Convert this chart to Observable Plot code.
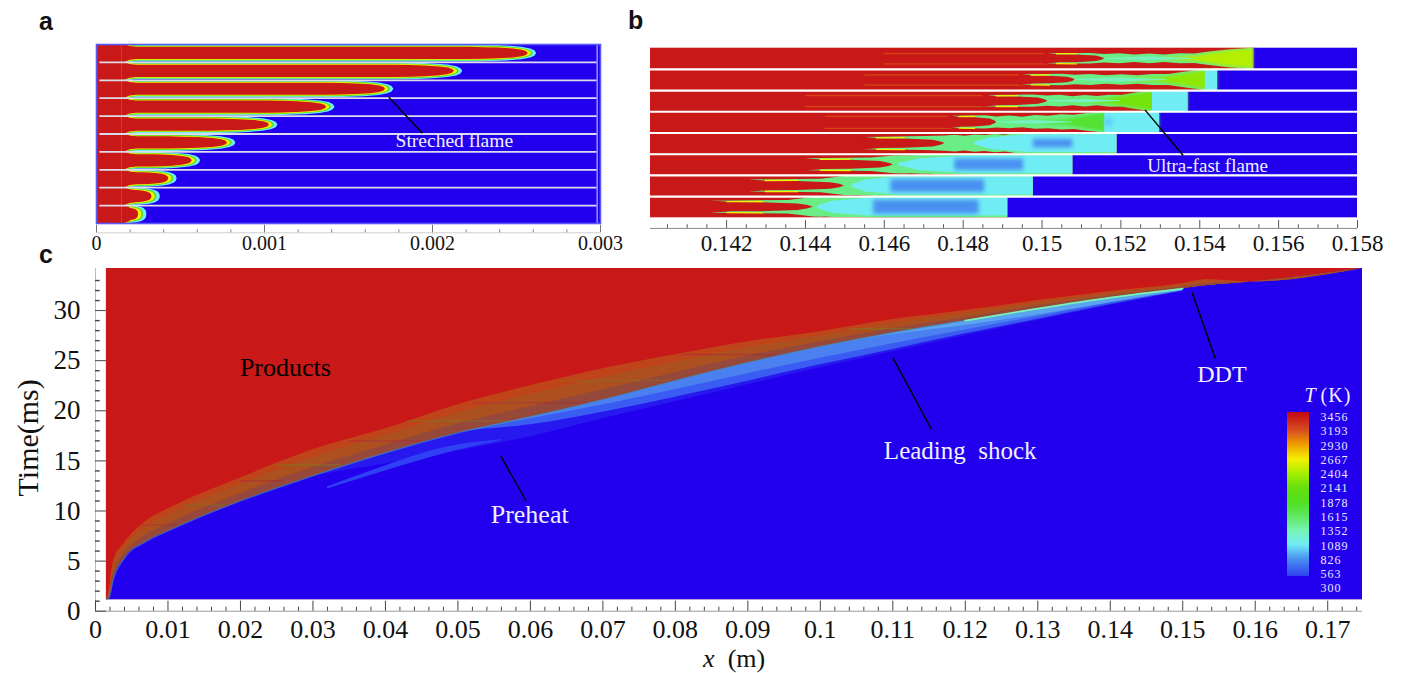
<!DOCTYPE html>
<html><head><meta charset="utf-8">
<script src="https://cdn.jsdelivr.net/npm/d3@7"></script>
<script src="https://cdn.jsdelivr.net/npm/@observablehq/plot@0.6"></script>
<style>
html,body{margin:0;padding:0;background:#fff;overflow:hidden}
#page{position:relative;width:1401px;height:673px;overflow:hidden}
#page svg{position:absolute;overflow:visible;background:transparent}
.letter{position:absolute;font:bold 25px "Liberation Sans",sans-serif;color:#111;line-height:1}
</style></head><body><div id="page"></div>
<script>
// ---------- temperature colour key ----------
const tempStops  = [300,563,826,1089,1352,1615,1878,2141,2404,2667,2930,3193,3456];
const tempColors = ["#2200ee","#3450f0","#4a90f0","#70ecf4","#78f4b4","#60e860","#50e020","#66e010","#a8ee00","#f4f000","#f0a000","#d85020","#c81818"];
const legendTicks = [300,563,826,1089,1352,1615,1878,2141,2404,2667,2930,3193,3456];

// ---------- panel a ----------
const aTips   = [.00262,.00218,.00177,.00142,.00108,.00083,.00062,.00048,.00038,.00030];
const aNoseU  = [1,.75,.5,.25,.1,.03,0];
const aNoseW  = [.41,.39,.36,.30,.22,.13,0];
const aLayers = [[1089,1.16,0],[1878,1.03,-.00002],[2667,.93,-.00003],[3456,.83,-.00005]];
const aMajor  = [0,.001,.002,.003];
const aMinor  = [.0002,.0004,.0006,.0008,.0012,.0014,.0016,.0018,.0022,.0024,.0026,.0028];

// ---------- panel b ----------
const bProng  = [.15015,.14953,.14860,.14773,.14549,.14405,.14262,.14163];
const bFinger = [.15159,.15084,.15015,.14885,.14754,.14623,.14499,.14420];
const bFull   = [.15476,.15414,.15277,.15159,.14966,.14816,.14630,.14555];
const bShock  = [.15536,.15445,.15370,.15298,.15190,.15078,.14978,.14913];
const bCyan   = [.15536,.15414,.15280,.15159,.14829,.14636,.14517,.14430];
const bCoreA  = [null,null,null,.15160,.14978,.14779,.14617,.14573];
const bCoreB  = [null,null,null,.15180,.15078,.14953,.14854,.14840];
const bHP     = [.24,.24,.26,.28,.28,.27,.27,.27];
const bHF     = [.20,.22,.24,.26,.36,.42,.45,.46];
const bHM     = [.20,.22,.24,.32,.40,.46,.48,.49];
const bHE     = [.42,.5,.5,.5,.5,.5,.5,.5];
const bBumpF  = [.12,.24,.36,.48,.6,.72,.84];
const bBumpH  = [.035,-.025,.03,-.02,.03,-.02,.02];
const bStreak = [.1460,.1455,.1440,.1445,null,null,null,null];
const bTailA  = [.1530,.1520,.1505,.1495,null,null,null,null];
const bTailT  = [2450,2300,2200,1800,null,null,null,null];
const bMajor  = [.142,.144,.146,.148,.150,.152,.154,.156,.158];
const bMinor  = [.1405,.141,.1415,.1425,.143,.1435,.1445,.145,.1455,.1465,.147,.1475,.1485,.149,.1495,.1505,.151,.1515,.1525,.153,.1535,.1545,.155,.1555,.1565,.157,.1575];
const bMajorLabels = ["0.142","0.144","0.146","0.148","0.15","0.152","0.154","0.156","0.158"];

// ---------- panel c ----------
const cFrontX = [.0015,.0018,.0025,.0039,.0071,.01,.02,.03,.04,.05,.06,.07,.08,.09,.1,.11,.12,.13,.14,.15,.1534,.1593,.1748];
const cLower  = [1.15,1.23,3.3,5.2,7.0,8.0,11.0,13.5,15.8,17.8,19.4,21.1,23.0,24.8,26.4,27.8,29.0,30.2,31.3,32.2,32.5,32.85,34.2];
const cUpper  = [1.15,1.7,5.05,6.7,9.04,10.2,13.3,16.1,18.2,20.6,22.5,24.2,25.6,26.9,27.9,29.1,30.0,31.0,31.9,32.7,33.1,32.85,34.2];
const cPreX   = [.03,.04,.05,.06,.07,.08,.09,.1,.11,.12,.13,.14,.15];
const cPreLow = [13.5,14.7,16.0,17.4,19.2,20.9,22.6,24.3,25.9,27.5,29.0,30.5,31.9];
const cPreTop = [13.5,15.8,17.8,19.4,21.1,23.0,24.8,26.4,27.8,29.0,30.2,31.3,32.2];
const cPreF1  = [1,1,1,.6,.35,.22,.16,.14,.12,.12,.12,.12,.2];
const cPreF2  = [1,1,1,.9,.72,.58,.5,.45,.42,.38,.35,.35,.4];
const cPreF3  = [1,1,1,1,1,1,1,.98,.9,.68,.48,.35,.3];
const cSlashX = [.032,.040,.048,.056];
const cSlashL = [12.2,14.0,15.7,17.0];
const cSlashT = [12.4,14.5,16.3,17.1];
const cStreakX1 = [.0065,.012,.020,.025,.035,.043,.052,.064,.081,.104];
const cStreakX2 = [.0112,.018,.026,.034,.045,.057,.068,.079,.094,.113];
const cStreakT  = [8.6,10.6,13.0,14.6,17.0,19.0,20.8,23.0,25.6,28.2];
const cStreakC  = ["#a8283c","#7f7a20","#a8283c","#7f7a20","#a8283c","#7f7a20","#a8283c","#7f7a20","#a8283c","#7f7a20"];
const cXMajor = [0,.01,.02,.03,.04,.05,.06,.07,.08,.09,.1,.11,.12,.13,.14,.15,.16,.17];
const cXMinor = d3.range(2,175,2).filter(d=>d%10).map(d=>d/1000);
const cYMajor = [0,5,10,15,20,25,30];
const cYMinor = d3.range(1,34).filter(d=>d%5);

const BLUE=300, RED=3456;
const color = {type:"linear",domain:tempStops,range:tempColors,interpolate:"rgb"};
const serif = "Liberation Serif";
const blur  = {imageFilter:"blur(0.7px)"};
const page  = document.getElementById("page");
function place(svg,left,top){svg.style.left=left+"px";svg.style.top=top+"px";page.appendChild(svg);return svg;}
function letter(t,x,y){const d=document.createElement("div");d.className="letter";d.textContent=t;d.style.left=x+"px";d.style.top=y+"px";page.appendChild(d);}

// ---------- draw panel a ----------
const aX0=.00017;
const aMarks=[
  Plot.rect([{T:BLUE}],{x1:0,x2:.003,y1:0,y2:10,fill:"T"}),
  Plot.rect([{T:RED}],{x1:0,x2:aX0,y1:0,y2:10,fill:"T"})
];
for(const [T,k,dt] of aLayers){
  const pts=[];
  aTips.forEach((tip0,r)=>{
    const tip=tip0+dt, L=Math.min(.00035,.6*(tip-aX0));
    const shape=[[aX0+.00003,.46],[aX0+.00007,.41]].filter(d=>d[0]<tip-L).map(([x,w])=>[x,w*k]);
    shape.unshift([aX0-.00002,.5],[aX0,.5]);
    aNoseU.forEach((u,i)=>shape.push([tip-u*L,aNoseW[i]*k]));
    for(const [x,w0] of shape){
      const w=Math.min(.5,w0);
      pts.push({r,T,x,y1:r+.5-w,y2:r+.5+w});
    }
  });
  aMarks.push(Plot.areaY(pts,{x:"x",y1:"y1",y2:"y2",z:"r",fill:"T",...blur}));
}
aMarks.push(
  Plot.ruleY([1,2,3,4,5,6,7,8,9],{x1:.00002,x2:.00298,stroke:"#dcdcec",strokeWidth:1.8}),
  Plot.ruleX([.00298],{y1:0,y2:10,stroke:"#b4b4f8",strokeWidth:1.2}),
  Plot.frame({stroke:"#5a5af8",strokeWidth:1.6}),
  Plot.ruleY([10.52],{x1:0,x2:.003,stroke:"#cfcfcf",strokeWidth:1}),
  Plot.ruleX(aMajor,{y1:10.1,y2:10.52,stroke:"#777",strokeWidth:1}),
  Plot.ruleX(aMinor,{y1:10.35,y2:10.52,stroke:"#888",strokeWidth:1}),
  Plot.axisX(aMajor,{anchor:"bottom",tickSize:0,tickPadding:12,fontSize:20,tickFormat:d=>d===0?"0":d.toFixed(3),fill:"#111",fontFamily:serif,label:null}),
  Plot.link([{x1:.00174,y1:2.95,x2:.00194,y2:4.96}],{x1:"x1",y1:"y1",x2:"x2",y2:"y2",stroke:"#000",strokeWidth:1.4}),
  Plot.text(["Streched flame"],{x:.00213,y:5.4,text:d=>d,fill:"#f0f0ff",fontSize:19.5,fontFamily:serif})
);
place(Plot.plot({width:625,height:252,marginLeft:96,marginRight:25,marginTop:44,marginBottom:29,
  x:{domain:[0,.003],axis:null},y:{domain:[10,0],axis:null},color,style:{background:"transparent"},marks:aMarks}),0,0);

// ---------- draw panel b ----------
const bXL=.14007,bXR=.158;
const bMarks=[];
const rows=d3.range(8);
bMarks.push(Plot.rect(rows,{x1:bXL,x2:r=>bShock[r],y1:r=>r,y2:r=>r+1,fill:()=>RED}));
bMarks.push(Plot.rect(rows,{x1:r=>bShock[r],x2:bXR,y1:r=>r,y2:r=>r+1,fill:()=>BLUE}));
bMarks.push(Plot.ruleY(rows.filter(r=>bStreak[r]).flatMap(r=>[{r,s:-1},{r,s:1}]),{x1:d=>bStreak[d.r],x2:d=>bProng[d.r],y:d=>d.r+.5+d.s*bHP[d.r],stroke:()=>3000,strokeOpacity:.4,strokeWidth:1.2,...blur}));
// green wedge with a ragged edge
function waist(r,f){
  const a=f<.5?bHF[r]:bHM[r], b=f<.5?bHM[r]:bHE[r], u=f<.5?f*2:(f-.5)*2;
  return a+(b-a)*u*u;
}
const wedge=rows.flatMap(r=>{
  const p=bProng[r],f=bFinger[r];
  const pts=[[p,bHP[r]+.01],[p+(f-p)*.75,Math.min(bHP[r]+.05,bHF[r]+.05)],[f,bHF[r]]];
  bBumpF.forEach((g,i)=>pts.push([f+(bFull[r]-f)*g,waist(r,g)+bBumpH[i]*(r<5?1:.3)]));
  pts.push([bFull[r],bHE[r]],[bShock[r],.5]);
  return pts.map(([x,h])=>({r,x,y1:r+.5-h,y2:r+.5+h,T:1500}));
});
bMarks.push(Plot.areaY(wedge,{x:"x",y1:"y1",y2:"y2",z:"r",fill:"T",...blur}));
// hot tails behind the shock
const tails=rows.filter(r=>bTailA[r]).flatMap(r=>[
  {x:bTailA[r],h:.02},{x:(bTailA[r]+bFull[r])/2,h:.12},{x:bFull[r],h:Math.min(.44,bHE[r]-.04)},{x:bShock[r],h:.46}
].map(d=>({r,x:d.x,y1:r+.5-d.h,y2:r+.5+d.h,T:bTailT[r]})));
bMarks.push(Plot.areaY(tails,{x:"x",y1:"y1",y2:"y2",z:"r",fill:"T",imageFilter:"blur(1.6px)"}));
// cyan interior
const spine=rows.flatMap(r=>[[bFinger[r],.02],[bFinger[r]+(bFull[r]-bFinger[r])*.35,.09],[bFinger[r]+(bFull[r]-bFinger[r])*.7,.02]].map(([x,h])=>({r,x,y1:r+.5-h,y2:r+.5+h,T:1300})));
bMarks.push(Plot.areaY(spine.filter(d=>d.r<4),{x:"x",y1:"y1",y2:"y2",z:"r",fill:"T",...blur}));
const cyan=rows.filter(r=>bCyan[r]<bShock[r]).flatMap(r=>{
  const open=r>=4, hc=open?.42:.5;
  return (open?[[bCyan[r],.05],[bCyan[r]+(bFull[r]-bCyan[r])*.3,.28],[bFull[r],hc],[bShock[r],hc]]:[[bCyan[r],hc],[bShock[r],hc]])
    .map(([x,h])=>({r,x,y1:r+.5-h,y2:r+.5+h,T:1089}));
});
bMarks.push(Plot.areaY(cyan,{x:"x",y1:"y1",y2:"y2",z:"r",fill:"T",...blur}));
// blue core
const coreH=[0,0,0,.2,.2,.27,.3,.33];
const core=rows.filter(r=>bCoreA[r]).map(r=>({r,x1:bCoreA[r],x2:bCoreB[r],y1:r+.5-coreH[r],y2:r+.5+coreH[r],T:r<4?1000:826}));
bMarks.push(Plot.rect(core,{x1:"x1",x2:"x2",y1:"y1",y2:"y2",fill:"T",imageFilter:"blur(2px)"}));
// red finger between the two prongs
const finger=rows.flatMap(r=>{
  const p=bProng[r],f=bFinger[r],h=bHP[r]-.05;
  return [[p-.0001,bHP[r]+.03],[p+(f-p)*.2,h],[p+(f-p)*.5,h*.95],[p+(f-p)*.85,h*.7],[p+(f-p)*.95,h*.35],[f,0]].map(([x,w])=>({r,x,y1:r+.5-w,y2:r+.5+w,T:RED}));
});
bMarks.push(Plot.areaY(finger,{x:"x",y1:"y1",y2:"y2",z:"r",fill:"T",...blur}));
// yellow prong streaks
const prongs=rows.flatMap(r=>[-1,1].flatMap(s=>[
  [bProng[r]+(bFinger[r]-bProng[r])*.15,bHP[r]-.01],[bProng[r]+(bFinger[r]-bProng[r])*.5,bHP[r]]
].map(([x,h])=>({k:r+"_"+s,x,y:r+.5+s*h,T:2667}))));
bMarks.push(Plot.line(prongs,{x:"x",y:"y",z:"k",stroke:"T",strokeWidth:1.3,...blur}));
bMarks.push(
  Plot.ruleX([bShock[0]],{y1:0,y2:1,stroke:"#e06a20",strokeWidth:1.2}),
  Plot.ruleY([1,2,3,4,5,6,7],{x1:bXL,x2:bXR,stroke:"#fff",strokeWidth:2.1}),
  Plot.ruleY([8.5],{x1:bXL,x2:bXR,stroke:"#888",strokeWidth:1}),
  Plot.ruleX(bMajor,{y1:8.13,y2:8.5,stroke:"#555",strokeWidth:1}),
  Plot.ruleX(bMinor,{y1:8.33,y2:8.5,stroke:"#555",strokeWidth:1}),
  Plot.axisX(bMajor,{anchor:"bottom",tickSize:0,tickPadding:17,fontSize:23,tickFormat:(d,i)=>bMajorLabels[i],fill:"#111",fontFamily:serif,label:null}),
  Plot.link([{x1:.15261,y1:2.91,x2:.15358,y2:5.06}],{x1:"x1",y1:"y1",x2:"x2",y2:"y2",stroke:"#000",strokeWidth:1.4}),
  Plot.text(["Ultra-fast flame"],{x:.1542,y:5.53,text:d=>d,fill:"#f0f0ff",fontSize:19,fontFamily:serif})
);
place(Plot.plot({width:776,height:252,marginLeft:25,marginRight:44,marginTop:47.7,marginBottom:34.7,
  x:{domain:[bXL,bXR],axis:null},y:{domain:[8,0],axis:null},color,style:{background:"transparent"},marks:bMarks}),625,0);

// ---------- draw panel c ----------
const cBand=cFrontX.map((x,i)=>({x,lo:cLower[i],up:cUpper[i]}));
const cPre=cPreX.map((x,i)=>({x,lo:cPreLow[i],up:cPreTop[i],f1:cPreF1[i],f2:cPreF2[i],f3:cPreF3[i]}));
const cX0=.0015,cX1=.1748,cT0=1.15,cT1=34.2;
const smooth={curve:"monotone-x"};
const cMarks=[
  Plot.rect([{T:RED}],{x1:cX0,x2:cX1,y1:cT0,y2:cT1,fill:"T"}),
  Plot.areaY(cBand,{x:"x",y1:cT0,y2:"lo",fill:()=>BLUE,...smooth}),
  // preheat zone ahead of the flame
  Plot.areaY(cPre,{x:"x",y1:"lo",y2:"up",fill:"#2818f0",...blur,...smooth}),
  Plot.areaY(cPre,{x:"x",y1:d=>d.lo+(d.up-d.lo)*d.f1,y2:"up",fill:"#3a5cf2",...blur,...smooth}),
  Plot.areaY(cPre,{x:"x",y1:d=>d.lo+(d.up-d.lo)*d.f2,y2:"up",fill:"#4a80f0",...blur,...smooth}),
  Plot.areaY(cPre,{x:"x",y1:d=>d.lo+(d.up-d.lo)*d.f3,y2:"up",fill:"#5aa4f0",...blur,...smooth}),
  Plot.areaY(cSlashX,{x:d=>d,y1:(d,i)=>cSlashL[i],y2:(d,i)=>cSlashT[i],fill:"#3040f4",...blur,...smooth}),
  // mixed zone behind the flame
  Plot.areaY(cBand,{x:"x",y1:"lo",y2:"up",fill:"#c0441a",...blur,...smooth}),
  Plot.areaY(cBand,{x:"x",y1:"lo",y2:d=>d.lo+(d.up-d.lo)*.72,fill:"#ac5020",...blur,...smooth}),
  Plot.areaY(cBand,{x:"x",y1:"lo",y2:d=>d.lo+(d.up-d.lo)*.32,fill:"#96483a",...blur,...smooth}),
  Plot.ruleY(cStreakT,{x1:(d,i)=>cStreakX1[i],x2:(d,i)=>cStreakX2[i],stroke:(d,i)=>cStreakC[i],strokeOpacity:.6,strokeWidth:1.2}),
  Plot.lineY(cBand.filter(d=>d.x<.125),{x:"x",y:"lo",stroke:"#3f8ac0",strokeWidth:1.2,strokeOpacity:.7,...smooth}),
  Plot.lineY(cBand.filter(d=>d.x>=.12&&d.x<=.15),{x:"x",y:"lo",stroke:()=>1350,strokeWidth:1.8,...blur,...smooth}),
  // axes
  Plot.ruleY([0],{x1:0,x2:cX1,stroke:"#999",strokeWidth:1}),
  Plot.ruleX([0],{y1:0,y2:cT1,stroke:"#bbb",strokeWidth:1}),
  Plot.ruleX(cXMajor,{y1:0,y2:1,stroke:"#444",strokeWidth:1}),
  Plot.ruleX(cXMinor,{y1:0,y2:.4,stroke:"#444",strokeWidth:1}),
  Plot.ruleY(cYMajor,{x1:0,x2:cX0,stroke:"#444",strokeWidth:1}),
  Plot.ruleY(cYMinor,{x1:0,x2:.00065,stroke:"#444",strokeWidth:1.4}),
  Plot.axisX(cXMajor,{anchor:"bottom",tickSize:0,tickPadding:8,fontSize:26,tickFormat:d=>String(+d.toFixed(2)),fill:"#111",fontFamily:serif,label:null}),
  Plot.axisY(cYMajor,{anchor:"left",tickSize:0,tickPadding:15,fontSize:27,fill:"#111",fontFamily:serif,label:null}),
  Plot.text(["Time(ms)"],{x:-.0092,y:17.3,text:d=>d,rotate:-90,fontSize:30,fill:"#111",fontFamily:serif}),
  Plot.text(["x"],{x:.0846,y:-4.72,text:d=>d,fontSize:26,fontStyle:"italic",fill:"#111",fontFamily:serif}),
  Plot.text(["(m)"],{x:.0898,y:-4.72,text:d=>d,fontSize:26,fill:"#111",fontFamily:serif}),
  Plot.link([
    {x1:.1513,y1:31.8,x2:.1545,y2:25.2},
    {x1:.1100,y1:25.3,x2:.1153,y2:18.2},
    {x1:.0559,y1:15.5,x2:.0594,y2:11.0}
  ],{x1:"x1",y1:"y1",x2:"x2",y2:"y2",stroke:"#000",strokeWidth:1.4}),
  Plot.text(["Products"],{x:.0262,y:24.3,text:d=>d,fill:"#000",fontSize:26,fontFamily:serif}),
  Plot.text(["Leading \u00a0shock"],{x:.1193,y:16.0,text:d=>d,fill:"#f0f0ff",fontSize:25,fontFamily:serif}),
  Plot.text(["Preheat"],{x:.0599,y:9.64,text:d=>d,fill:"#f0f0ff",fontSize:26,fontFamily:serif}),
  Plot.text(["DDT"],{x:.1554,y:23.6,text:d=>d,fill:"#f0f0ff",fontSize:24,fontFamily:serif})
];
place(Plot.plot({width:1401,height:423,marginLeft:95,marginRight:39,marginTop:18,marginBottom:62.3,
  x:{domain:[0,cX1],axis:null},y:{domain:[0,cT1],axis:null},color,style:{background:"transparent"},marks:cMarks}),0,250);

// ---------- colour bar ----------
const barCells=d3.range(520,3540,20);
const barSvg=place(Plot.plot({width:120,height:215,marginLeft:17,marginRight:81,marginTop:31.7,marginBottom:12,
  x:{domain:[0,1],axis:null},y:{domain:[300,3456],axis:null},color,style:{background:"transparent"},
  marks:[
    Plot.rect(barCells,{x1:0,x2:1,y1:d=>d,y2:d=>Math.min(3540,d+60),fill:d=>d}),
    Plot.axisY(legendTicks,{anchor:"right",tickSize:0,tickPadding:11,fontSize:12,fill:"#e8e8ff",fontFamily:serif,tickFormat:d=>String(d),label:null}),
    Plot.text(["T"],{x:1.05,y:3856,text:d=>d,fontSize:20,fontStyle:"italic",fill:"#f0f0ff",fontFamily:serif}),
    Plot.text(["(K)"],{x:2.2,y:3856,text:d=>d,fontSize:20,fill:"#f0f0ff",fontFamily:serif})
  ]}),1270,385);
barSvg.style.letterSpacing="1px";

letter("a",39,9);letter("b",628,8);letter("c",39,242);
</script></body></html>
